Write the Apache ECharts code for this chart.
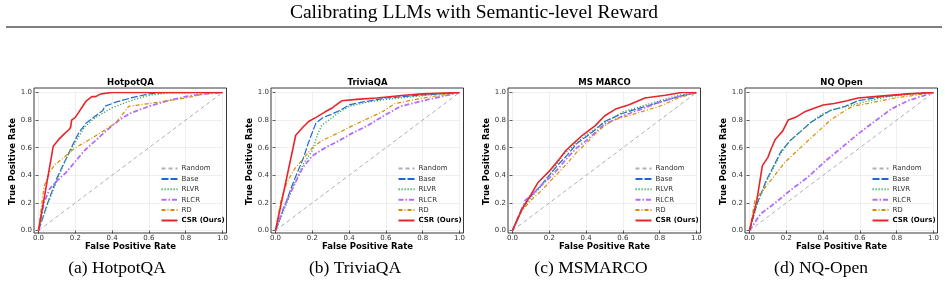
<!DOCTYPE html>
<html>
<head>
<meta charset="utf-8">
<script src="https://cdn.jsdelivr.net/npm/echarts@6/dist/echarts.min.js"></script>
<style>
  html, body { margin: 0; padding: 0; background: #fff; }
  #chart { width: 948px; height: 289px; }
</style>
</head>
<body>
<div id="chart"></div>
<script>
// panel names / captions
const panelTitles = ['HotpotQA', 'TriviaQA', 'MS MARCO', 'NQ Open'];
const captions = ['(a) HotpotQA', '(b) TriviaQA', '(c) MSMARCO', '(d) NQ-Open'];
const captionCenters = [117, 355, 591, 821];
const methods = ['Random', 'Base', 'RLVR', 'RLCR', 'RD', 'CSR (Ours)'];

// ROC points [fpr, tpr]
const randomLine = [[0, 0], [1, 1]];

const hotpotBase = [[0,0],[0.05,0.2],[0.1,0.38],[0.15,0.52],[0.2,0.66],[0.22,0.71],[0.26,0.78],[0.3,0.82],[0.35,0.87],[0.36,0.9],[0.42,0.93],[0.5,0.96],[0.6,0.99],[0.7,1.0],[1,1]];
const hotpotRLVR = [[0,0],[0.05,0.19],[0.1,0.36],[0.15,0.52],[0.2,0.64],[0.25,0.75],[0.3,0.81],[0.35,0.85],[0.4,0.89],[0.5,0.94],[0.6,0.98],[0.7,0.995],[1,1]];
const hotpotRLCR = [[0,0],[0.03,0.2],[0.06,0.3],[0.1,0.36],[0.15,0.42],[0.2,0.5],[0.25,0.58],[0.3,0.64],[0.35,0.7],[0.4,0.76],[0.45,0.81],[0.5,0.85],[0.6,0.9],[0.7,0.94],[0.8,0.97],[0.9,0.99],[1,1]];
const hotpotRD = [[0,0],[0.03,0.32],[0.06,0.42],[0.09,0.48],[0.13,0.52],[0.2,0.6],[0.28,0.66],[0.35,0.72],[0.42,0.78],[0.49,0.9],[0.6,0.92],[0.7,0.94],[0.8,0.96],[0.9,0.99],[1,1]];
const hotpotCSR = [[0,0],[0.08,0.61],[0.11,0.66],[0.14,0.7],[0.165,0.73],[0.175,0.75],[0.18,0.8],[0.2,0.82],[0.22,0.86],[0.24,0.9],[0.26,0.94],[0.29,0.97],[0.31,0.97],[0.34,0.99],[0.4,1.0],[1,1]];

const triviaBase = [[0,0],[0.05,0.18],[0.1,0.36],[0.15,0.52],[0.18,0.64],[0.22,0.78],[0.26,0.82],[0.3,0.84],[0.35,0.87],[0.4,0.91],[0.47,0.93],[0.6,0.96],[0.78,0.98],[1,1]];
const triviaRLVR = [[0,0],[0.05,0.16],[0.1,0.33],[0.15,0.48],[0.2,0.58],[0.23,0.7],[0.25,0.76],[0.3,0.81],[0.35,0.86],[0.4,0.9],[0.5,0.93],[0.6,0.95],[0.75,0.97],[0.9,0.99],[1,1]];
const triviaRLCR = [[0,0],[0.04,0.15],[0.08,0.27],[0.12,0.38],[0.15,0.46],[0.2,0.54],[0.27,0.6],[0.33,0.64],[0.41,0.7],[0.5,0.76],[0.6,0.84],[0.68,0.9],[0.8,0.94],[0.9,0.97],[1,1]];
const triviaRD = [[0,0],[0.03,0.22],[0.06,0.34],[0.1,0.44],[0.15,0.52],[0.2,0.6],[0.25,0.65],[0.33,0.7],[0.42,0.76],[0.5,0.81],[0.58,0.86],[0.65,0.92],[0.8,0.96],[0.9,0.98],[1,1]];
const triviaCSR = [[0,0],[0.11,0.69],[0.15,0.75],[0.18,0.79],[0.22,0.82],[0.27,0.86],[0.31,0.89],[0.33,0.91],[0.36,0.94],[0.44,0.95],[0.55,0.96],[0.7,0.98],[0.8,0.99],[1,1]];

const marcoBase = [[0,0],[0.05,0.16],[0.1,0.25],[0.15,0.32],[0.2,0.4],[0.25,0.48],[0.3,0.55],[0.35,0.63],[0.4,0.68],[0.45,0.73],[0.5,0.79],[0.55,0.82],[0.6,0.85],[0.7,0.89],[0.8,0.93],[0.9,0.97],[1,1]];
const marcoRLVR = [[0,0],[0.05,0.15],[0.1,0.24],[0.15,0.31],[0.2,0.4],[0.27,0.54],[0.32,0.6],[0.37,0.66],[0.42,0.71],[0.5,0.78],[0.55,0.82],[0.6,0.86],[0.7,0.9],[0.8,0.94],[0.9,0.98],[1,1]];
const marcoRLCR = [[0,0],[0.04,0.12],[0.07,0.22],[0.1,0.25],[0.15,0.32],[0.2,0.38],[0.25,0.45],[0.3,0.53],[0.35,0.6],[0.4,0.65],[0.45,0.71],[0.5,0.77],[0.55,0.8],[0.6,0.83],[0.7,0.88],[0.8,0.93],[0.9,0.97],[1,1]];
const marcoRD = [[0,0],[0.05,0.14],[0.1,0.22],[0.15,0.28],[0.2,0.35],[0.25,0.42],[0.3,0.49],[0.35,0.57],[0.4,0.63],[0.45,0.7],[0.5,0.76],[0.55,0.8],[0.6,0.82],[0.7,0.86],[0.8,0.9],[0.9,0.96],[1,1]];
const marcoCSR = [[0,0],[0.05,0.15],[0.1,0.26],[0.14,0.35],[0.2,0.43],[0.25,0.51],[0.29,0.58],[0.33,0.63],[0.38,0.69],[0.45,0.76],[0.5,0.83],[0.56,0.88],[0.63,0.91],[0.72,0.96],[0.83,0.98],[0.92,1.0],[1,1]];

const nqBase = [[0,0],[0.04,0.19],[0.09,0.36],[0.14,0.49],[0.17,0.57],[0.22,0.65],[0.28,0.72],[0.33,0.78],[0.39,0.83],[0.44,0.87],[0.52,0.9],[0.59,0.94],[0.72,0.97],[0.86,0.99],[1,1]];
const nqRLVR = [[0,0],[0.04,0.18],[0.09,0.35],[0.14,0.48],[0.17,0.56],[0.22,0.65],[0.28,0.72],[0.33,0.78],[0.39,0.84],[0.44,0.87],[0.5,0.89],[0.56,0.91],[0.65,0.94],[0.75,0.97],[0.9,0.99],[1,1]];
const nqRLCR = [[0,0],[0.03,0.06],[0.06,0.12],[0.14,0.2],[0.23,0.3],[0.32,0.39],[0.41,0.5],[0.5,0.6],[0.59,0.7],[0.68,0.79],[0.77,0.88],[0.86,0.94],[1,1]];
const nqRD = [[0,0],[0.03,0.22],[0.06,0.27],[0.12,0.37],[0.19,0.49],[0.26,0.58],[0.35,0.69],[0.44,0.8],[0.52,0.87],[0.56,0.9],[0.64,0.92],[0.79,0.96],[0.9,0.98],[1,1]];
const nqCSR = [[0,0],[0.04,0.22],[0.07,0.47],[0.1,0.53],[0.12,0.6],[0.14,0.66],[0.16,0.69],[0.18,0.72],[0.21,0.8],[0.25,0.82],[0.3,0.86],[0.34,0.88],[0.4,0.91],[0.46,0.92],[0.53,0.94],[0.59,0.96],[0.68,0.97],[0.86,0.99],[1,1]];

const panelData = [
  [randomLine, hotpotBase, hotpotRLVR, hotpotRLCR, hotpotRD, hotpotCSR],
  [randomLine, triviaBase, triviaRLVR, triviaRLCR, triviaRD, triviaCSR],
  [randomLine, marcoBase, marcoRLVR, marcoRLCR, marcoRD, marcoCSR],
  [randomLine, nqBase, nqRLVR, nqRLCR, nqRD, nqCSR]
];

const lineStyles = [
  {color: '#aeaeb8', width: 1, type: [4, 3]},
  {color: '#2166d8', width: 1.2, type: [7, 2]},
  {color: '#35a853', width: 1.3, type: [1.2, 1.8]},
  {color: '#b46cff', width: 1.8, type: [5, 2, 1.5, 2]},
  {color: '#d98c00', width: 1.2, type: [4, 2, 1, 2]},
  {color: '#e8252b', width: 1.6, type: 'solid'}
];

const chart = echarts.init(document.getElementById('chart'));

const x0s = [38.5, 275.5, 512.5, 749.5]; // pixel of fpr = 0 in each panel
const plotW = 184, plotTop = 92.5, plotH = 138;

const grids = [], xAxes = [], yAxes = [], series = [], legends = [], graphics = [];
const titles = [{
  text: 'Calibrating LLMs with Semantic-level Reward',
  left: 'center', top: 3, padding: 0,
  textStyle: {fontFamily: 'Liberation Serif', fontWeight: 'normal', fontSize: 19.5, color: '#000'}
}];

graphics.push({
  type: 'line', shape: {x1: 6, y1: 27, x2: 942, y2: 27},
  style: {stroke: '#000', lineWidth: 1.2}, silent: true
});

x0s.forEach(function (x0, p) {
  grids.push({left: x0, top: plotTop, width: plotW, height: plotH});
  xAxes.push({
    type: 'value', gridIndex: p, min: 0, max: 1, interval: 0.2, offset: 2,
    name: 'False Positive Rate', nameLocation: 'middle', nameGap: 10,
    nameTextStyle: {fontFamily: 'DejaVu Sans', fontWeight: 'bold', fontSize: 8.5, color: '#000'},
    axisLine: {show: false},
    axisTick: {show: true, length: 3, lineStyle: {color: '#333', width: 0.8}},
    axisLabel: {fontFamily: 'DejaVu Sans', fontSize: 7, color: '#333', margin: 2,
      formatter: function (v) { return v.toFixed(1); }},
    splitLine: {show: true, lineStyle: {color: '#ebebeb', width: 0.8}}
  });
  yAxes.push({
    type: 'value', gridIndex: p, min: 0, max: 1, interval: 0.2, offset: 4.5,
    name: 'True Positive Rate', nameLocation: 'middle', nameGap: 17,
    nameTextStyle: {fontFamily: 'DejaVu Sans', fontWeight: 'bold', fontSize: 8.5, color: '#000'},
    axisLine: {show: false},
    axisTick: {show: true, length: 3, lineStyle: {color: '#333', width: 0.8}},
    axisLabel: {fontFamily: 'DejaVu Sans', fontSize: 7, color: '#333', margin: 2,
      formatter: function (v) { return v.toFixed(1); }},
    splitLine: {show: true, lineStyle: {color: '#ebebeb', width: 0.8}}
  });
  panelData[p].forEach(function (pts, m) {
    series.push({
      name: methods[m], type: 'line', xAxisIndex: p, yAxisIndex: p,
      data: pts, symbol: 'none', silent: true, animation: false,
      z: 2 + m,
      color: lineStyles[m].color,
      itemStyle: {color: lineStyles[m].color},
      lineStyle: lineStyles[m]
    });
  });
  legends.push({
    orient: 'vertical', left: x0 + 117, top: 160,
    itemWidth: 16, itemHeight: 8, itemGap: 3.4,
    itemStyle: {opacity: 0},
    textStyle: {fontFamily: 'DejaVu Sans', fontSize: 7, color: '#333', padding: [0, 0, 0, -1]},
    selectedMode: false,
    data: methods.map(function (n) {
      return n === 'CSR (Ours)' ? {name: n, textStyle: {fontWeight: 'bold', color: '#000'}} : {name: n};
    })
  });
  titles.push({
    text: panelTitles[p], left: x0 + plotW / 2, top: 78, padding: 0, textAlign: 'center',
    textStyle: {fontFamily: 'DejaVu Sans', fontWeight: 'bold', fontSize: 8.5, color: '#000'}
  });
  titles.push({
    text: captions[p], left: captionCenters[p], top: 259, padding: 0, textAlign: 'center',
    textStyle: {fontFamily: 'Liberation Serif', fontWeight: 'normal', fontSize: 17.5, color: '#000'}
  });
  // axes frame (spines)
  graphics.push({
    type: 'rect', shape: {x: x0 - 4.5, y: 88, width: 192.5, height: 145},
    style: {fill: null, stroke: '#222', lineWidth: 0.9}, silent: true, z: 100
  });
});

chart.setOption({
  animation: false,
  title: titles,
  grid: grids,
  xAxis: xAxes,
  yAxis: yAxes,
  legend: legends,
  series: series,
  graphic: graphics
});
</script>
</body>
</html>
